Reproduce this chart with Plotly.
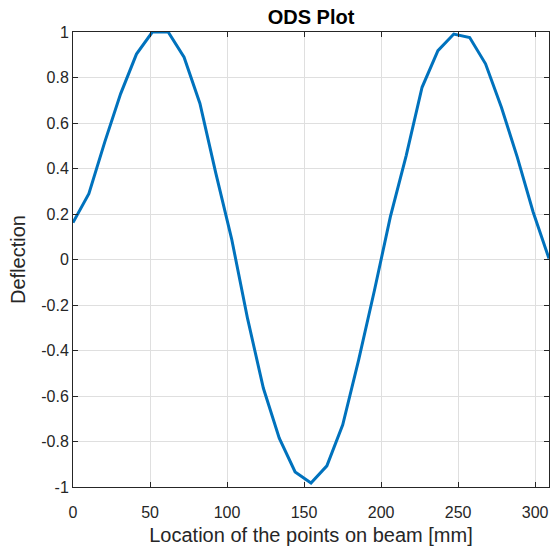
import plotly.graph_objects as go

# Data
x_mm = [0, 10.3, 20.6, 30.9, 41.2, 51.5, 61.8, 72.1, 82.4, 92.7, 103.0,
        113.3, 123.6, 133.9, 144.2, 154.5, 164.8, 175.1, 185.4, 195.7, 206.0,
        216.3, 226.6, 236.9, 247.2, 257.5, 267.8, 278.1, 288.4, 298.7, 309.0]
deflection = [0.162, 0.289, 0.516, 0.728, 0.903, 1.0, 1.0, 0.889, 0.686, 0.38, 0.09,
              -0.259, -0.566, -0.785, -0.934, -0.982, -0.907, -0.727, -0.442, -0.135, 0.187,
              0.457, 0.757, 0.918, 0.991, 0.976, 0.86, 0.669, 0.45, 0.209, 0.004]

x_ticks = [0, 50, 100, 150, 200, 250, 300]
y_ticks = [-1, -0.8, -0.6, -0.4, -0.2, 0, 0.2, 0.4, 0.6, 0.8, 1]
y_tick_labels = ["-1", "-0.8", "-0.6", "-0.4", "-0.2", "0", "0.2", "0.4", "0.6", "0.8", "1"]

FONT = "Liberation Sans, Arial, Helvetica, sans-serif"
AX = "#262626"
GRID = "#dfdfdf"

fig = go.Figure()
fig.add_trace(go.Scatter(
    x=x_mm, y=deflection, mode="lines",
    line=dict(color="#0072BD", width=3),
    cliponaxis=False, showlegend=False,
))

fig.update_layout(
    width=553, height=552,
    margin=dict(l=73, r=4, t=32, b=65, autoexpand=False),
    paper_bgcolor="white", plot_bgcolor="white",
    font=dict(family=FONT, color=AX, size=16),
    title=dict(text="<b>ODS Plot</b>", x=0.5625, xanchor="center", y=0.981, yanchor="top",
               font=dict(family=FONT, size=20, color="black")),
)
fig.update_xaxes(
    range=[0, 309], tickvals=x_ticks, ticktext=[str(v) for v in x_ticks],
    showgrid=True, gridcolor=GRID, gridwidth=1, zeroline=False,
    showline=True, linecolor=AX, linewidth=1, mirror="ticks",
    ticks="inside", ticklen=5, tickcolor=AX, automargin=False,
    ticklabelstandoff=11,
    tickfont=dict(size=16, color=AX),
    title=dict(text="Location of the points on beam [mm]", font=dict(size=20, color=AX), standoff=7),
)
fig.update_yaxes(
    range=[-1, 1], tickvals=y_ticks, ticktext=y_tick_labels,
    showgrid=True, gridcolor=GRID, gridwidth=1, zeroline=False,
    showline=True, linecolor=AX, linewidth=1, mirror="ticks",
    ticks="inside", ticklen=5, tickcolor=AX, automargin=False,
    tickfont=dict(size=16, color=AX),
    title=dict(text="Deflection", font=dict(size=20, color=AX), standoff=10),
)

fig.write_html("out.html", config={"displayModeBar": False},
               post_script="document.body.style.margin='0';document.body.style.overflow='hidden';")
